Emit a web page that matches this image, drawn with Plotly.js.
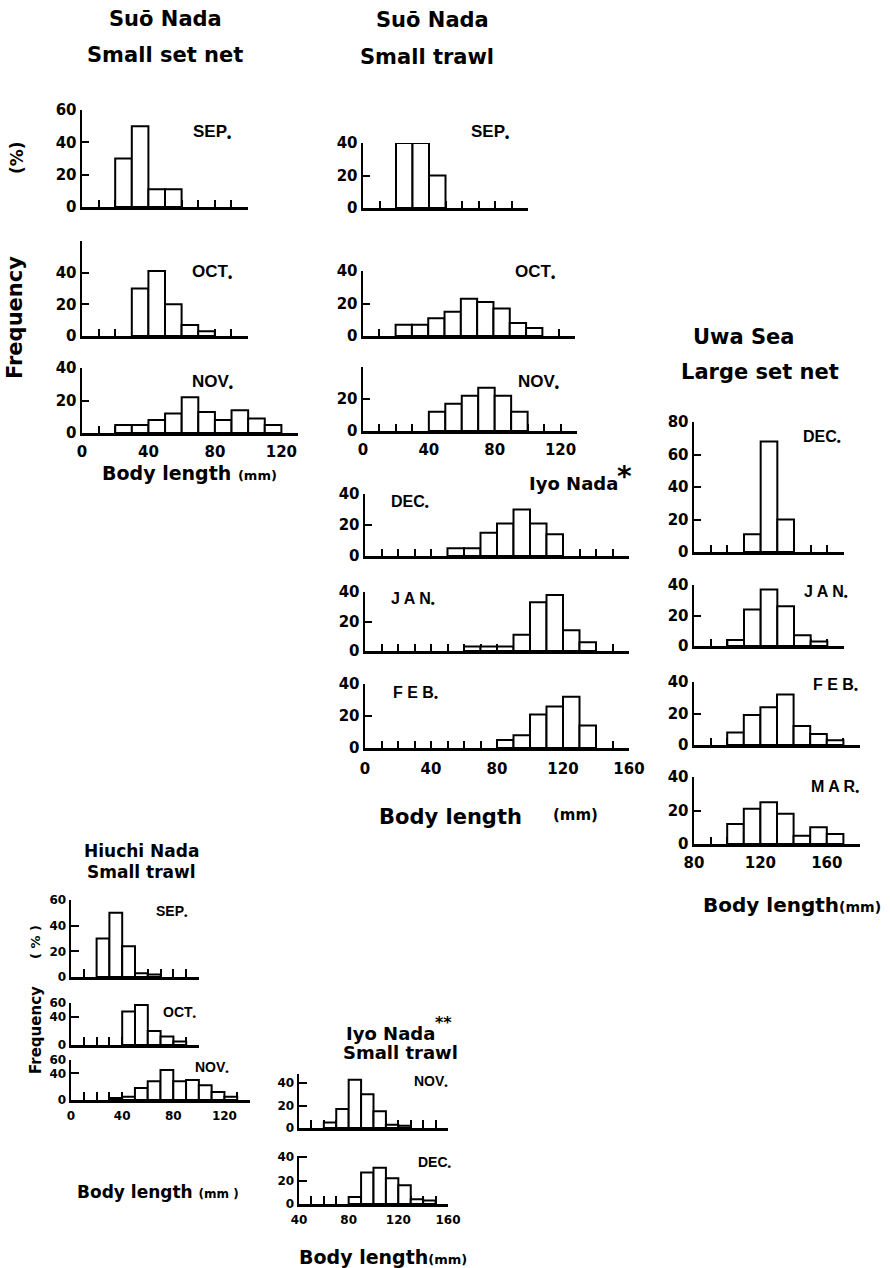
<!DOCTYPE html>
<html>
<head>
<meta charset="utf-8">
<script src="https://cdn.plot.ly/plotly-3.0.1.min.js"></script>
<style>html,body{margin:0;padding:0;background:#fff}</style>
</head>
<body>
<div id="chart" style="width:890px;height:1268px"></div>
<script>
// ---- Length-frequency data (% by 10 mm class; value = lower edge of class) ----
// Suō Nada, small set net
const suoNetSepLen = [20, 30, 40, 50];
const suoNetSepPct = [30, 50, 11, 11];
const suoNetOctLen = [30, 40, 50, 60, 70];
const suoNetOctPct = [30, 41, 20, 7, 3];
const suoNetNovLen = [20, 30, 40, 50, 60, 70, 80, 90, 100, 110];
const suoNetNovPct = [5, 5, 8, 12, 22, 13, 8, 14, 9, 5];
// Suō Nada, small trawl
const suoTrawlSepLen = [20, 30, 40];
const suoTrawlSepPct = [40, 40, 20];
const suoTrawlOctLen = [20, 30, 40, 50, 60, 70, 80, 90, 100];
const suoTrawlOctPct = [7, 7, 11, 15, 23, 21, 17, 8, 5];
const suoTrawlNovLen = [40, 50, 60, 70, 80, 90];
const suoTrawlNovPct = [12, 17, 22, 27, 22, 12];
// Iyo Nada (*)
const iyoDecLen = [50, 60, 70, 80, 90, 100, 110];
const iyoDecPct = [5, 5, 15, 21, 30, 21, 14];
const iyoJanLen = [60, 70, 80, 90, 100, 110, 120, 130];
const iyoJanPct = [3, 3, 3, 11, 33, 38, 14, 6];
const iyoFebLen = [80, 90, 100, 110, 120, 130];
const iyoFebPct = [5, 8, 21, 26, 32, 14];
// Uwa Sea, large set net
const uwaDecLen = [110, 120, 130];
const uwaDecPct = [11, 68, 20];
const uwaJanLen = [100, 110, 120, 130, 140, 150];
const uwaJanPct = [4, 24, 37, 26, 7, 3];
const uwaFebLen = [100, 110, 120, 130, 140, 150, 160];
const uwaFebPct = [8, 19, 24, 32, 12, 7, 3];
const uwaMarLen = [100, 110, 120, 130, 140, 150, 160];
const uwaMarPct = [12, 21, 25, 18, 5, 10, 6];
// Hiuchi Nada, small trawl
const hiuchiSepLen = [20, 30, 40, 50, 60];
const hiuchiSepPct = [30, 50, 24, 3, 2];
const hiuchiOctLen = [40, 50, 60, 70, 80];
const hiuchiOctPct = [48, 57, 20, 12, 5];
const hiuchiNovLen = [30, 40, 50, 60, 70, 80, 90, 100, 110, 120];
const hiuchiNovPct = [3, 5, 18, 28, 45, 28, 30, 22, 12, 5];
// Iyo Nada (**), small trawl
const iyoTrawlNovLen = [60, 70, 80, 90, 100, 110, 120];
const iyoTrawlNovPct = [5, 17, 43, 30, 15, 3, 2];
const iyoTrawlDecLen = [80, 90, 100, 110, 120, 130, 140];
const iyoTrawlDecPct = [6, 27, 31, 22, 16, 4, 3];

// ---- Tick labels ----
const lenLabels0to120 = [0, 40, 80, 120];
const lenLabels0to160 = [0, 40, 80, 120, 160];
const lenLabels80to160 = [80, 120, 160];
const lenLabels40to160 = [40, 80, 120, 160];
const pctTicks60 = [0, 20, 40, 60];
const pctTicks40 = [0, 20, 40];
const pctTicks80 = [0, 20, 40, 60, 80];
const pctTicks20 = [0, 20];
const pctTicksSparse = [0, 40, 60];

// ---- Month labels ----
const monthsAutumn = ['SEP', 'OCT', 'NOV'];
const monthsWinter = ['DEC', 'JAN', 'FEB', 'MAR'];

const W = 890, H = 1268, CLASS = 10;
const BOLD = 'DejaVu Sans, Liberation Sans, Arial, sans-serif';
const MONTH = 'Liberation Sans, Arial, sans-serif';

const traces = [];
const layout = {
  width: W, height: H, autosize: false,
  margin: {l: 0, r: 0, t: 0, b: 0},
  paper_bgcolor: 'white', plot_bgcolor: 'rgba(0,0,0,0)',
  showlegend: false, bargap: 0, annotations: []
};
let count = 0;

function classEdges(from, to) {
  const vals = [];
  for (let v = from; v <= to + 1e-9; v += CLASS) vals.push(v);
  return vals;
}

// one histogram panel; box gives pixel edges of the plotting area
function panel(len, pct, box, o) {
  count++;
  const s = count === 1 ? '' : String(count);
  const tl = o.tl || 7;
  traces.push({
    type: 'bar', x: len, y: pct, offset: 0, width: CLASS,
    xaxis: 'x' + s, yaxis: 'y' + s, hoverinfo: 'skip',
    marker: {color: 'white', line: {color: 'black', width: o.bar || 2}}
  });
  const font = {family: BOLD, size: o.fs || 15, color: 'black', weight: 'bold'};
  const edges = classEdges(o.xr[0], o.xr[1]);
  const xa = {
    domain: [box.l / W, box.r / W], range: o.xr, anchor: 'y' + s,
    showline: true, linecolor: 'black', linewidth: o.axis || 2.5,
    showgrid: false, zeroline: false,
    ticks: 'inside', ticklen: tl, tickwidth: 2, tickcolor: 'black',
    tickfont: font, layer: 'below traces', fixedrange: true
  };
  if (o.xl) {
    Object.assign(xa, {
      tickmode: 'array', tickvals: o.xl, showticklabels: true, ticklabelstandoff: o.xso || 3,
      minor: {tickmode: 'array', tickvals: edges.filter(v => !o.xl.includes(v)),
              ticks: 'inside', ticklen: tl, tickwidth: 2, tickcolor: 'black', showgrid: false}
    });
  } else {
    Object.assign(xa, {tickmode: 'array', tickvals: edges, showticklabels: false});
  }
  layout['xaxis' + s] = xa;
  const ya = {
    domain: [1 - box.b / H, 1 - box.t / H], range: [0, o.ymax], anchor: 'x' + s,
    showline: true, linecolor: 'black', linewidth: o.axis || 2.5,
    showgrid: false, zeroline: false,
    tickmode: 'array', tickvals: o.yt,
    ticks: 'inside', ticklen: tl, tickwidth: 2, tickcolor: 'black',
    tickfont: font, layer: 'below traces', fixedrange: true
  };
  if (o.yextra) {
    ya.minor = {tickmode: 'array', tickvals: o.yextra, ticks: 'inside', ticklen: tl,
                tickwidth: 2, tickcolor: 'black', showgrid: false};
  }
  layout['yaxis' + s] = ya;
}

function text(t, px, py, size, o = {}) {
  layout.annotations.push({
    xref: 'paper', yref: 'paper', x: px / W, y: 1 - py / H,
    text: t, showarrow: false, xanchor: o.xa || 'center', yanchor: 'middle',
    textangle: o.angle || 0,
    font: {family: o.family || BOLD, size: size, color: 'black', weight: 'bold'}
  });
}
function month(m, px, py, size, spaced) {
  const t = spaced ? m.split('').join(' ') : m;
  text(t + '<sub>•</sub>', px, py, size, {family: MONTH});
}

// Suō Nada – small set net
panel(suoNetSepLen, suoNetSepPct, {l: 82, r: 248, t: 110, b: 207}, {xr: [0, 100], ymax: 60, yt: pctTicks60});
panel(suoNetOctLen, suoNetOctPct, {l: 82, r: 248, t: 241, b: 336}, {xr: [0, 100], ymax: 60, yt: pctTicks40});
panel(suoNetNovLen, suoNetNovPct, {l: 82, r: 298, t: 368, b: 433}, {xr: [0, 130], ymax: 40, yt: pctTicks40, xl: lenLabels0to120});
// Suō Nada – small trawl
panel(suoTrawlSepLen, suoTrawlSepPct, {l: 363, r: 528, t: 143, b: 208}, {xr: [0, 100], ymax: 40, yt: pctTicks40});
panel(suoTrawlOctLen, suoTrawlOctPct, {l: 363, r: 575, t: 271, b: 336}, {xr: [0, 130], ymax: 40, yt: pctTicks40});
panel(suoTrawlNovLen, suoTrawlNovPct, {l: 363, r: 577, t: 367, b: 431}, {xr: [0, 130], ymax: 40, yt: pctTicks20, yextra: [40], xl: lenLabels0to120});
// Iyo Nada *
panel(iyoDecLen, iyoDecPct, {l: 365, r: 629, t: 494, b: 556}, {xr: [0, 160], ymax: 40, yt: pctTicks40});
panel(iyoJanLen, iyoJanPct, {l: 365, r: 629, t: 592, b: 651}, {xr: [0, 160], ymax: 40, yt: pctTicks40});
panel(iyoFebLen, iyoFebPct, {l: 365, r: 629, t: 684, b: 748}, {xr: [0, 160], ymax: 40, yt: pctTicks40, xl: lenLabels0to160, xso: 5});
// Uwa Sea – large set net
panel(uwaDecLen, uwaDecPct, {l: 694, r: 844, t: 422, b: 552}, {xr: [80, 170], ymax: 80, yt: pctTicks80});
panel(uwaJanLen, uwaJanPct, {l: 694, r: 844, t: 585, b: 646}, {xr: [80, 170], ymax: 40, yt: pctTicks40});
panel(uwaFebLen, uwaFebPct, {l: 694, r: 860, t: 682, b: 745}, {xr: [80, 180], ymax: 40, yt: pctTicks40});
panel(uwaMarLen, uwaMarPct, {l: 694, r: 860, t: 777, b: 844}, {xr: [80, 180], ymax: 40, yt: pctTicks40, xl: lenLabels80to160});
// Hiuchi Nada – small trawl
panel(hiuchiSepLen, hiuchiSepPct, {l: 71, r: 199, t: 900, b: 977}, {xr: [0, 100], ymax: 60, yt: pctTicks60, fs: 12, tl: 8});
panel(hiuchiOctLen, hiuchiOctPct, {l: 71, r: 199, t: 1003, b: 1045}, {xr: [0, 100], ymax: 60, yt: pctTicksSparse, fs: 12, tl: 8});
panel(hiuchiNovLen, hiuchiNovPct, {l: 71, r: 250, t: 1060, b: 1100}, {xr: [0, 140], ymax: 60, yt: pctTicksSparse, fs: 12, tl: 8, xl: lenLabels0to120});
// Iyo Nada ** – small trawl
panel(iyoTrawlNovLen, iyoTrawlNovPct, {l: 299, r: 448, t: 1074, b: 1128}, {xr: [40, 160], ymax: 48, yt: pctTicks40, fs: 12, tl: 8});
panel(iyoTrawlDecLen, iyoTrawlDecPct, {l: 299, r: 448, t: 1156, b: 1204}, {xr: [40, 160], ymax: 41, yt: pctTicks40, fs: 12, tl: 8, xl: lenLabels40to160});

// ---- Headings ----
text('Suō Nada', 165, 19, 21);
text('Small set net', 165, 55, 21);
text('Suō Nada', 432, 20, 21);
text('Small trawl', 427, 57, 21);
text('Uwa Sea', 743, 337, 21);
text('Large set net', 760, 372, 21);
text('Iyo Nada', 573, 483, 18);
text('*', 624, 476, 28);
text('Hiuchi Nada', 141, 851, 17);
text('Small trawl', 141, 872, 17);
text('Iyo Nada', 390, 1033, 18);
text('**', 443, 1022, 16);
text('Small trawl', 400, 1052, 18);

// ---- Axis titles ----
text('(%)', 17, 158, 17, {angle: -90});
text('Frequency', 15, 318, 21, {angle: -90});
text('Body length <span style="font-size:13px">(mm)</span>', 189, 473, 19);
text('Body length', 451, 817, 21);
text('(mm)', 575, 815, 15);
text('Body length<span style="font-size:14px">(mm)</span>', 792, 905, 20);
text('( % )', 35, 942, 13, {angle: -90});
text('Frequency', 36, 1030, 15, {angle: -90});
text('Body length <span style="font-size:12px">(mm )</span>', 158, 1192, 17);
text('Body length<span style="font-size:13px">(mm)</span>', 383, 1257, 19);

// ---- Month labels ----
month(monthsAutumn[0], 212, 133, 17);
month(monthsAutumn[1], 212, 273, 17);
month(monthsAutumn[2], 212, 383, 17);
month(monthsAutumn[0], 490, 133, 17);
month(monthsAutumn[1], 535, 273, 17);
month(monthsAutumn[2], 538, 383, 17);
month(monthsWinter[0], 410, 503, 16);
month(monthsWinter[1], 413, 600, 16, true);
month(monthsWinter[2], 415, 693, 16, true);
month(monthsWinter[0], 822, 437, 16);
month(monthsWinter[1], 826, 592, 16, true);
month(monthsWinter[2], 835, 685, 16, true);
month(monthsWinter[3], 835, 787, 16, true);
month(monthsAutumn[0], 172, 912, 14);
month(monthsAutumn[1], 180, 1013, 14);
month(monthsAutumn[2], 212, 1068, 14);
month(monthsAutumn[2], 431, 1082, 14);
month(monthsWinter[0], 435, 1163, 14);

Plotly.newPlot('chart', traces, layout, {staticPlot: true, displayModeBar: false});
</script>
</body>
</html>
